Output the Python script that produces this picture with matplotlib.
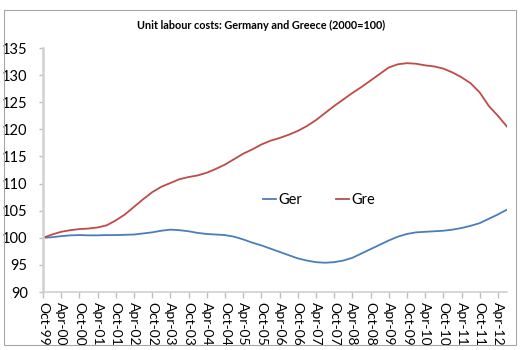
import matplotlib
matplotlib.use("Agg")
import matplotlib.pyplot as plt
from matplotlib.patches import Rectangle

title = "Unit labour costs: Germany and Greece (2000=100)"

tick_labels = ["Oct-99", "Apr-00", "Oct-00", "Apr-01", "Oct-01", "Apr-02", "Oct-02",
               "Apr-03", "Oct-03", "Apr-04", "Oct-04", "Apr-05", "Oct-05", "Apr-06",
               "Oct-06", "Apr-07", "Oct-07", "Apr-08", "Oct-08", "Apr-09", "Oct-09",
               "Apr-10", "Oct-10", "Apr-11", "Oct-11", "Apr-12"]

# quarterly values, Oct-99 .. Jul-12
ger = [100.0, 100.1, 100.3, 100.45, 100.5, 100.45, 100.45, 100.5, 100.5, 100.55,
       100.6, 100.8, 101.0, 101.3, 101.5, 101.4, 101.2, 100.9, 100.7, 100.6,
       100.5, 100.2, 99.7, 99.1, 98.6, 98.0, 97.4, 96.8, 96.2, 95.8,
       95.5, 95.4, 95.5, 95.8, 96.3, 97.1, 97.9, 98.7, 99.5, 100.2,
       100.7, 101.0, 101.1, 101.2, 101.3, 101.5, 101.8, 102.2, 102.7, 103.5,
       104.3, 105.2]

gre = [100.0, 100.6, 101.1, 101.4, 101.6, 101.7, 101.9, 102.3, 103.2, 104.3,
       105.7, 107.1, 108.4, 109.4, 110.1, 110.8, 111.2, 111.5, 112.0, 112.7,
       113.5, 114.5, 115.5, 116.3, 117.2, 117.9, 118.4, 119.0, 119.7, 120.6,
       121.7, 123.0, 124.3, 125.5, 126.7, 127.8, 129.0, 130.2, 131.4, 132.0,
       132.2, 132.1, 131.8, 131.6, 131.2, 130.5, 129.6, 128.5, 126.8, 124.3,
       122.5, 120.5]

series_names = ["Ger", "Gre"]
colors = ["#4a7ebb", "#be4b48"]

plt.rcParams['font.family'] = ['Lato', 'DejaVu Sans']

fig = plt.figure(figsize=(5.22, 3.5), dpi=100)
fig.patches.append(Rectangle((4/522, 1-345/350), 512/522, 335/350, transform=fig.transFigure,
                             fill=False, edgecolor="#a6a6a6", linewidth=0.8))
ax = fig.add_axes([43/522, 1-292/350, 464/522, 244/350])

x = list(range(len(ger)))
ax.plot(x, ger, color=colors[0], linewidth=1.3, label=series_names[0])
ax.plot(x, gre, color=colors[1], linewidth=1.3, label=series_names[1])

ax.set_xlim(0, len(ger) - 1)
ax.set_ylim(90, 135)
ax.set_yticks(range(90, 136, 5))
ax.set_xticks(range(0, 2 * len(tick_labels), 2))
ax.set_xticklabels(tick_labels, rotation=270, fontsize=10, ha="center", rotation_mode="default")
ax.tick_params(axis='y', labelsize=10.5, length=3, color="#bfbfbf", width=1, pad=8)
ax.tick_params(axis='x', length=4, color="#bfbfbf", width=1, pad=3)

for s in ["top", "right"]:
    ax.spines[s].set_visible(False)
ax.spines["left"].set_color("#d0d0d0")
ax.spines["left"].set_linewidth(1.8)
ax.spines["bottom"].set_color("#d0d0d0")
ax.spines["bottom"].set_linewidth(1.2)

ax.legend(loc="center", bbox_to_anchor=(319/522, 1-200/350), bbox_transform=fig.transFigure,
          ncol=2, frameon=False, fontsize=10.5, handlelength=0.9, handletextpad=0.15,
          columnspacing=2.3)

fig.text(261/522, 1-25/350, title, ha="center", va="center", fontsize=7.8, fontweight="bold")

fig.savefig("out.png", dpi=100)
